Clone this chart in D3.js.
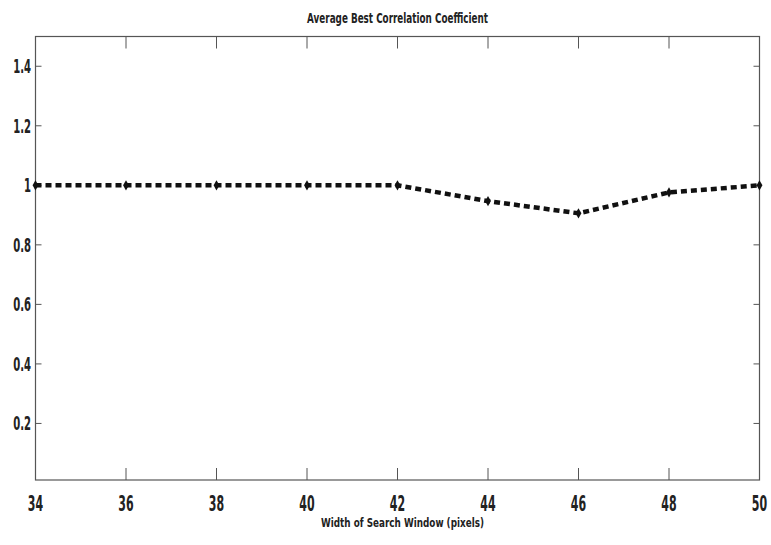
<!DOCTYPE html>
<html>
<head>
<meta charset="utf-8">
<script src="https://cdn.jsdelivr.net/npm/d3@7"></script>
<style>
  html, body { margin: 0; padding: 0; background: #fff; }
  svg { display: block; }
  .lbl { font-family: "DejaVu Sans", "Liberation Sans", sans-serif; font-weight: bold; fill: #222; }
</style>
</head>
<body>
<div id="chart"></div>
<script>
// Average best correlation coefficient vs search window width.
const windowWidths = [34, 36, 38, 40, 42, 44, 46, 48, 50];
const bestCorr = [1.0, 1.0, 1.0, 1.0, 1.0, 0.947, 0.906, 0.976, 1.0];
const xTicks = [34, 36, 38, 40, 42, 44, 46, 48, 50];
const yTicks = [0.2, 0.4, 0.6, 0.8, 1.0, 1.2, 1.4];

(function () {
  "use strict";
  const W = 771, H = 545, m = { t: 36.5, r: 11.5, b: 65, l: 35.5 };
  const svg = d3.select("#chart").append("svg").attr("width", W).attr("height", H);

  const x = d3.scaleLinear().domain([34, 50]).range([m.l, W - m.r]);
  const y = d3.scaleLinear().domain([0.01, 1.5]).range([H - m.b, m.t]);
  const axisColor = "#555";
  // no narrow font installed, so squeeze text horizontally
  const squeeze = (sx) => (d, px, py) => `translate(${px},${py}) scale(${sx},1)`;

  // box
  svg.append("rect").attr("x", m.l).attr("y", m.t)
    .attr("width", x(50) - x(34)).attr("height", y(0.01) - y(1.5))
    .attr("fill", "none").attr("stroke", axisColor).attr("stroke-width", 1.2);

  // inward ticks on all four sides
  const tk = svg.append("g").attr("stroke", axisColor).attr("stroke-width", 1);
  xTicks.forEach((v) => {
    tk.append("line").attr("x1", x(v)).attr("x2", x(v)).attr("y1", y(0.01)).attr("y2", y(0.01) - 12);
    tk.append("line").attr("x1", x(v)).attr("x2", x(v)).attr("y1", y(1.5)).attr("y2", y(1.5) + 12);
  });
  yTicks.forEach((v) => {
    tk.append("line").attr("x1", x(34)).attr("x2", x(34) + 6).attr("y1", y(v)).attr("y2", y(v));
    tk.append("line").attr("x1", x(50)).attr("x2", x(50) - 6).attr("y1", y(v)).attr("y2", y(v));
  });

  // tick labels
  const sqX = squeeze(0.5), sqY = squeeze(0.53);
  svg.append("g").selectAll("text").data(xTicks).join("text")
    .attr("class", "lbl").attr("transform", (d) => sqX(d, x(d), y(0.01) + 31))
    .attr("text-anchor", "middle").style("font-size", "22px")
    .text((d) => d);
  svg.append("g").selectAll("text").data(yTicks).join("text")
    .attr("class", "lbl").attr("transform", (d) => sqY(d, m.l - 4.5, y(d) + 7))
    .attr("text-anchor", "end").style("font-size", "19px")
    .text((d) => (d === 1 ? "1" : d.toFixed(1)));

  // series
  const pts = windowWidths.map((w, i) => [w, bestCorr[i]]);
  svg.append("path").datum(pts)
    .attr("fill", "none").attr("stroke", "#111").attr("stroke-width", 4.5)
    .attr("stroke-dasharray", "6,4")
    .attr("d", d3.line().x((d) => x(d[0])).y((d) => y(d[1])));
  svg.append("g").selectAll("path").data(pts).join("path")
    .attr("transform", (d) => `translate(${x(d[0])},${y(d[1])})`)
    .attr("d", d3.symbol(d3.symbolDiamond, 30))
    .attr("fill", "#111");

  // titles
  const cx = (x(34) + x(50)) / 2;
  svg.append("text").attr("class", "lbl").attr("transform", squeeze(0.63)(null, cx, 23))
    .attr("text-anchor", "middle").style("font-size", "14px").text("Average Best Correlation Coefficient");
  svg.append("text").attr("class", "lbl").attr("transform", squeeze(0.68)(null, cx + 5, 527))
    .attr("text-anchor", "middle").style("font-size", "13px")
    .text("Width of Search Window (pixels)");
})();
</script>
</body>
</html>
